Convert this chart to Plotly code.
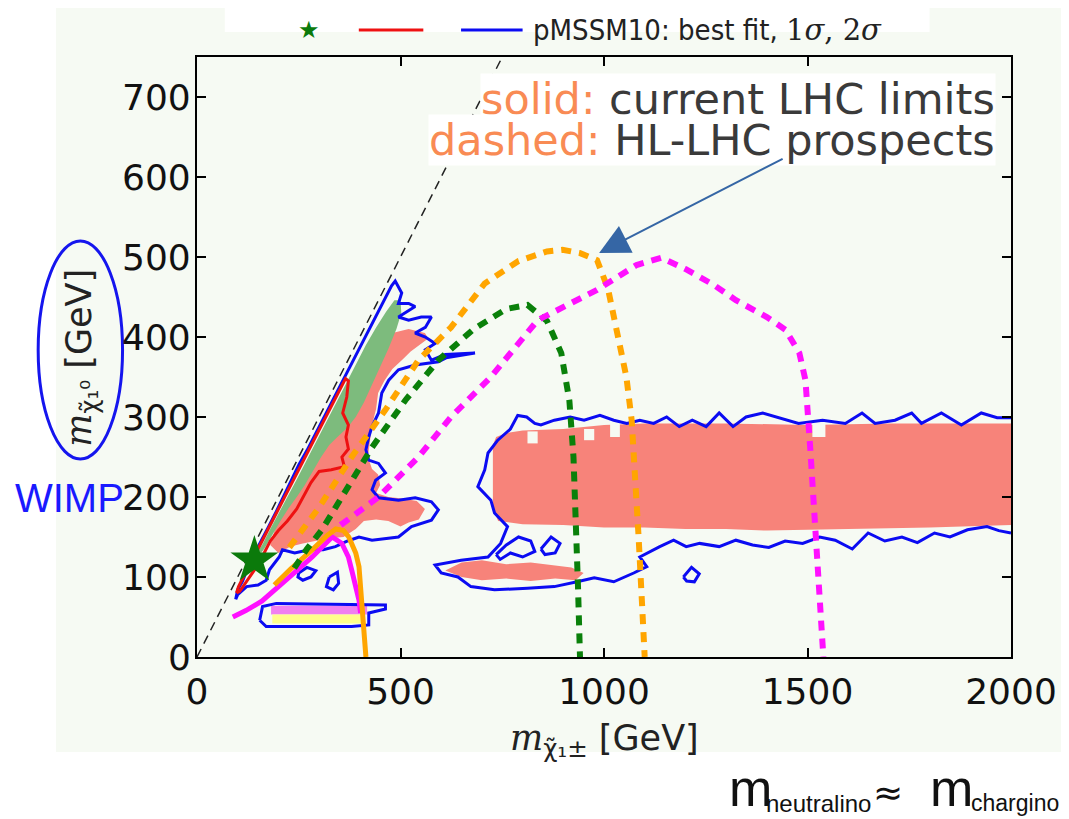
import plotly.graph_objects as go

# ---------------- data (GeV) ----------------
x_ticks = [0, 500, 1000, 1500, 2000]
y_ticks = [0, 100, 200, 300, 400, 500, 600, 700]

best_fit_x = [141]
best_fit_y = [121]

diag_x = [0, 750]
diag_y = [0, 750]

# salmon regions
salmon_diag_x = [180, 200, 240, 280, 320, 360, 400, 440, 480, 520, 560, 568, 545, 525, 505, 480, 460, 445, 440, 430, 425, 420, 430, 445, 450, 440, 470, 505, 540, 560, 545, 520, 500, 470, 440, 410, 390, 360, 320, 290, 260, 230, 200]
salmon_diag_y = [140, 175, 215, 255, 295, 330, 365, 392, 405, 410, 405, 398, 390, 382, 372, 360, 345, 330, 310, 290, 270, 250, 235, 228, 215, 205, 200, 198, 195, 185, 172, 168, 163, 170, 172, 170, 160, 150, 148, 145, 142, 138, 130]

salmon_rect_x = [727, 735, 760, 800, 900, 1000, 1100, 1300, 1500, 1700, 2000, 2000, 1800, 1600, 1400, 1300, 1200, 1100, 1000, 900, 800, 740, 727]
salmon_rect_y = [265, 275, 280, 283, 285, 290, 292, 292, 290, 292, 292, 165, 162, 160, 158, 160, 160, 162, 162, 165, 166, 170, 185]

salmon_low_x = [610, 650, 700, 760, 820, 870, 920, 950, 930, 880, 820, 760, 700, 650]
salmon_low_y = [108, 118, 121, 116, 118, 115, 112, 105, 96, 98, 95, 98, 96, 100]

hole_x0 = [812, 951, 1015, 1512]
hole_x1 = [837, 976, 1039, 1544]
hole_y0 = [267, 271, 275, 275]
hole_y1 = [282, 285, 292, 292]

# green (inside 1 sigma band)
green_x = [140, 160, 180, 200, 222, 245, 268, 292, 316, 340, 365, 390, 415, 440, 465, 485, 500, 502, 490, 470, 450, 430, 410, 390, 370, 345, 325, 305, 285, 265, 245, 225, 205, 185, 165, 150]
green_y = [125, 140, 160, 180, 200, 222, 245, 268, 292, 316, 340, 365, 390, 412, 432, 446, 446, 430, 410, 385, 362, 340, 318, 300, 287, 275, 265, 250, 232, 215, 200, 186, 170, 152, 135, 125]

# pink / yellow band
pink_x = [182, 418, 418, 182]
pink_y = [53, 53, 64, 64]
yellow_x = [185, 412, 412, 185]
yellow_y = [42, 42, 53, 53]

# 1 sigma contour (red)
red_x = [97, 102, 118, 135, 155, 175, 195, 215, 235, 255, 275, 295, 315, 335, 352, 365, 372, 368, 358, 372, 366, 372, 356, 362, 330, 300, 280, 262, 245, 222, 200, 180, 160, 140, 120, 105, 97]
red_y = [80, 88, 104, 120, 140, 160, 180, 200, 220, 240, 260, 280, 298, 318, 336, 348, 345, 325, 305, 290, 275, 260, 250, 238, 234, 232, 218, 200, 185, 170, 158, 145, 125, 108, 93, 82, 80]

# 2 sigma contours (blue)
blue_diag_x = [95, 100, 112, 125, 140, 158, 175, 195, 212, 232, 250, 270, 290, 308, 328, 348, 368, 388, 405, 425, 445, 462, 478, 487,
               503, 495, 520, 536, 512, 495, 520, 551, 576, 561, 536, 561, 585, 561, 576, 610, 683, 612, 593, 536, 495, 471, 454, 446, 430,
               422, 415, 422, 446, 463, 439, 430, 446, 495, 536, 576, 593, 576, 527, 495, 430, 398, 370, 340, 310, 276, 240, 210, 202, 178,
               170, 150, 122, 100, 95]
blue_diag_y = [72, 84, 95, 112, 128, 145, 162, 182, 200, 220, 240, 258, 278, 296, 315, 336, 354, 376, 392, 412, 432, 450, 464, 470,
               455, 442, 442, 438, 430, 425, 421, 425, 425, 412, 405, 400, 392, 384, 371, 378, 380, 374, 369, 365, 359, 346, 330, 305, 288,
               275, 259, 246, 242, 230, 221, 209, 199, 196, 199, 194, 184, 171, 163, 150, 146, 150, 145, 138, 134, 134, 130, 134, 125, 109,
               96, 90, 88, 78, 72]

blue_rect_x = [2000, 1970, 1941, 1893, 1850, 1812, 1770, 1732, 1690, 1649, 1610, 1568, 1530, 1488, 1445, 1405, 1365, 1324, 1283, 1235,
               1202, 1171, 1137, 1088, 1105, 1073, 1024, 976, 934, 878, 812, 731, 673, 641, 600, 585, 649, 715, 746, 763, 731, 722, 690,
               707, 715, 739, 770, 788, 810, 830, 845, 878, 917, 951, 990, 1024, 1056, 1088, 1122, 1154, 1185, 1217, 1251, 1283, 1317,
               1349, 1390, 1429, 1478, 1537, 1593, 1634, 1666, 1715, 1756, 1780, 1829, 1878, 1927, 1966, 2000]
blue_rect_y = [155, 158, 163, 159, 150, 155, 143, 150, 145, 155, 135, 146, 150, 142, 145, 137, 140, 146, 138, 142,
               138, 146, 138, 125, 113, 105, 94, 99, 94, 88, 86, 84, 88, 100, 105, 115, 121, 125, 142, 163, 180, 196, 213,
               234, 255, 271, 285, 302, 300, 292, 290, 296, 300, 296, 302, 296, 292, 296, 292, 300, 288, 296, 288, 305, 288,
               300, 305, 299, 292, 296, 292, 305, 292, 296, 305, 292, 305, 290, 305, 299, 299]

blue_loop1_x = [250, 270, 292, 280, 260, 248, 250]
blue_loop1_y = [105, 112, 108, 100, 96, 100, 105]
blue_loop2_x = [325, 345, 348, 335, 318, 325]
blue_loop2_y = [100, 106, 92, 84, 88, 100]
blue_loop3_x = [735, 760, 790, 820, 830, 800, 770, 745, 735]
blue_loop3_y = [128, 140, 150, 145, 132, 125, 130, 122, 128]
blue_loop4_x = [845, 870, 892, 880, 855, 845]
blue_loop4_y = [135, 150, 142, 130, 128, 135]
blue_loop5_x = [1195, 1215, 1234, 1222, 1203, 1195]
blue_loop5_y = [100, 112, 104, 94, 95, 100]
blue_band_x = [154, 161, 195, 463, 463, 422, 422, 380, 170, 154]
blue_band_y = [46, 63, 67, 65, 60, 55, 40, 38, 38, 46]

# current LHC limits (solid)
orange_lim_x = [190, 230, 283, 320, 341, 360, 373, 390, 398, 405, 410, 414, 415]
orange_lim_y = [90, 110, 134, 152, 160, 158, 150, 130, 113, 71, 30, 10, 0]
magenta_lim_x = [88, 120, 160, 202, 245, 283, 310, 332, 356, 372, 380, 390, 398, 402]
magenta_lim_y = [50, 58, 70, 88, 108, 125, 140, 150, 142, 125, 109, 90, 71, 55]

# HL-LHC prospects (dashed)
green_hl_x = [239, 270, 307, 365, 430, 512, 593, 680, 760, 812, 860, 895, 915, 925, 932, 936, 941]
green_hl_y = [111, 135, 159, 209, 262, 321, 371, 410, 435, 440, 420, 380, 320, 250, 170, 90, 0]
orange_hl_x = [227, 260, 300, 380, 463, 544, 624, 707, 790, 860, 898, 940, 983, 1010, 1032, 1055, 1068, 1078, 1085, 1093, 1100]
orange_hl_y = [137, 160, 187, 250, 309, 371, 412, 467, 495, 507, 509, 505, 496, 460, 409, 350, 296, 220, 150, 71, 0]
magenta_hl_x = [353, 400, 446, 544, 624, 722, 837, 983, 1080, 1141, 1200, 1270, 1324, 1400, 1446, 1480, 1495, 1507, 1520, 1532, 1539]
magenta_hl_y = [165, 182, 200, 250, 300, 350, 421, 459, 490, 499, 485, 465, 446, 425, 409, 380, 346, 259, 159, 71, 0]

# ---------------- figure ----------------
SALMON = "#f7837a"
GREENF = "#7dbb7d"
BLUE = "#0b0bf2"
RED = "#ee1111"
TINT = "#f6faf3"

fig = go.Figure()

def fill(x, y, color):
    fig.add_trace(go.Scatter(x=x, y=y, mode="lines", fill="toself", fillcolor=color,
                             line=dict(width=0, color=color), hoverinfo="skip", showlegend=False))

def line(x, y, color, width, dash="solid"):
    fig.add_trace(go.Scatter(x=x, y=y, mode="lines", line=dict(color=color, width=width, dash=dash),
                             hoverinfo="skip", showlegend=False))

fill(salmon_diag_x, salmon_diag_y, SALMON)
fill(salmon_rect_x, salmon_rect_y, SALMON)
fill(salmon_low_x, salmon_low_y, SALMON)
for a, b, c, d in zip(hole_x0, hole_x1, hole_y0, hole_y1):
    fill([a, b, b, a], [c, c, d, d], TINT)
fill(green_x, green_y, GREENF)
fill(pink_x, pink_y, "#f080f0")
fill(yellow_x, yellow_y, "#ffff8c")

line(diag_x, diag_y, "#222222", 1.5, "9px,6px")

for bx, by in [(blue_diag_x, blue_diag_y), (blue_rect_x, blue_rect_y), (blue_loop1_x, blue_loop1_y),
               (blue_loop2_x, blue_loop2_y), (blue_loop3_x, blue_loop3_y), (blue_loop4_x, blue_loop4_y),
               (blue_loop5_x, blue_loop5_y), (blue_band_x, blue_band_y)]:
    line(bx, by, BLUE, 3)
line(red_x, red_y, RED, 3)

line(magenta_lim_x, magenta_lim_y, "#ff10ff", 5)
line(orange_lim_x, orange_lim_y, "#ffa500", 5)
line(green_hl_x, green_hl_y, "#0a800a", 6, "10px,8px")
line(orange_hl_x, orange_hl_y, "#ffa500", 6, "10px,8px")
line(magenta_hl_x, magenta_hl_y, "#ff10ff", 6, "10px,8px")

fig.add_trace(go.Scatter(x=best_fit_x, y=best_fit_y, mode="markers",
                         marker=dict(symbol="star", size=36, color="#0b7a0b", line=dict(width=0)),
                         cliponaxis=False, hoverinfo="skip", showlegend=False))

# page pixel -> paper helpers (plot area on the page: 197..1017 x 57..657)
def px(x):
    return (x - 197) / 820.0

def py(y):
    return (657 - y) / 600.0

shapes = [
    dict(type="rect", xref="paper", yref="paper", x0=px(55), x1=px(1075), y0=py(752), y1=py(8),
         fillcolor=TINT, line=dict(width=0), layer="below"),
    dict(type="rect", xref="paper", yref="paper", x0=px(225), x1=px(935), y0=py(32), y1=py(0),
         fillcolor="white", line=dict(width=0), layer="below"),
    dict(type="circle", xref="paper", yref="paper", x0=px(37), x1=px(122), y0=py(459), y1=py(241),
         line=dict(color="#1515ee", width=3)),
    dict(type="line", xref="paper", yref="paper", x0=px(360), x1=px(425), y0=py(30), y1=py(30),
         line=dict(color=RED, width=3)),
    dict(type="line", xref="paper", yref="paper", x0=px(463), x1=px(525), y0=py(30), y1=py(30),
         line=dict(color=BLUE, width=3)),
]

ORANGE_T = "#f98b54"
GRAY_T = "#3a3a3a"

def note(x, y, text, size, color, family, xanchor="center", **kw):
    d = dict(xref="paper", yref="paper", x=px(x), y=py(y), text=text, showarrow=False,
             xanchor=xanchor, yanchor="middle", font=dict(size=size, color=color, family=family))
    d.update(kw)
    return d

annotations = [
    note(310, 30, "★", 24, "#0b7a0b", "DejaVu Sans"),
    note(533, 30, "pMSSM10: best fit, <span style='font-family:DejaVu Serif'>1<i>σ</i>, 2<i>σ</i></span>",
         29, "#222", "DejaVu Sans Condensed, DejaVu Sans", xanchor="left"),
    note(1002, 99, "<span style='color:%s'>solid:</span> current LHC limits" % ORANGE_T,
         43, GRAY_T, "DejaVu Sans", xanchor="right", bgcolor="white", borderpad=0),
    note(1002, 140, "<span style='color:%s'>dashed:</span> HL-LHC prospects" % ORANGE_T,
         43, GRAY_T, "DejaVu Sans", xanchor="right", bgcolor="white", borderpad=0),
    note(80, 358, "<span style='font-family:DejaVu Serif'><i>m</i></span><sub>χ̃₁⁰</sub> [GeV]",
         35, "#222", "DejaVu Sans", textangle=-90),
    note(607, 740, "<span style='font-family:DejaVu Serif'><i>m</i></span><sub>χ̃₁±</sub> [GeV]",
         35, "#222", "DejaVu Sans"),
    note(12, 498, "WIMP", 40, "#1a1aff", "Liberation Sans", xanchor="left"),
    note(731, 788, "m", 52, "#111", "Liberation Sans", xanchor="left"),
    note(768, 803, "neutralino", 24, "#111", "Liberation Sans", xanchor="left"),
    note(893, 792, "≈", 36, "#111", "DejaVu Sans"),
    note(933, 788, "m", 52, "#111", "Liberation Sans", xanchor="left"),
    note(975, 803, "chargino", 23, "#111", "Liberation Sans", xanchor="left"),
    dict(xref="x", yref="y", x=988, y=505, ax=185, ay=-95, text="", showarrow=True,
         arrowhead=2, arrowsize=3, arrowwidth=2, arrowcolor="#3566a5"),
]

# y tick labels placed snugly against the axis, as in the reference
for v in y_ticks:
    annotations.append(dict(xref="paper", yref="y", x=px(193), y=v, text=str(v), showarrow=False,
                            xanchor="right", yanchor="middle",
                            font=dict(size=36, color="#111", family="DejaVu Sans")))

axis_common = dict(showgrid=False, zeroline=False, showline=True, linecolor="black", linewidth=2,
                   mirror="ticks", ticks="inside", ticklen=9, tickwidth=1.5, tickcolor="black",
                   tickfont=dict(size=36, color="#111", family="DejaVu Sans"))

# the page body adds an 8 px offset, so the figure is 8 px smaller and margins shifted
fig.update_layout(
    width=1061, height=811,
    margin=dict(l=189, r=52, t=49, b=162),
    paper_bgcolor="white", plot_bgcolor="rgba(0,0,0,0)",
    xaxis=dict(range=[0, 2000], tickvals=x_ticks, ticklabelstandoff=2, **axis_common),
    yaxis=dict(range=[0, 750], tickvals=y_ticks, showticklabels=False, **axis_common),
    shapes=shapes, annotations=annotations, showlegend=False,
)

fig.write_html("out.html")
